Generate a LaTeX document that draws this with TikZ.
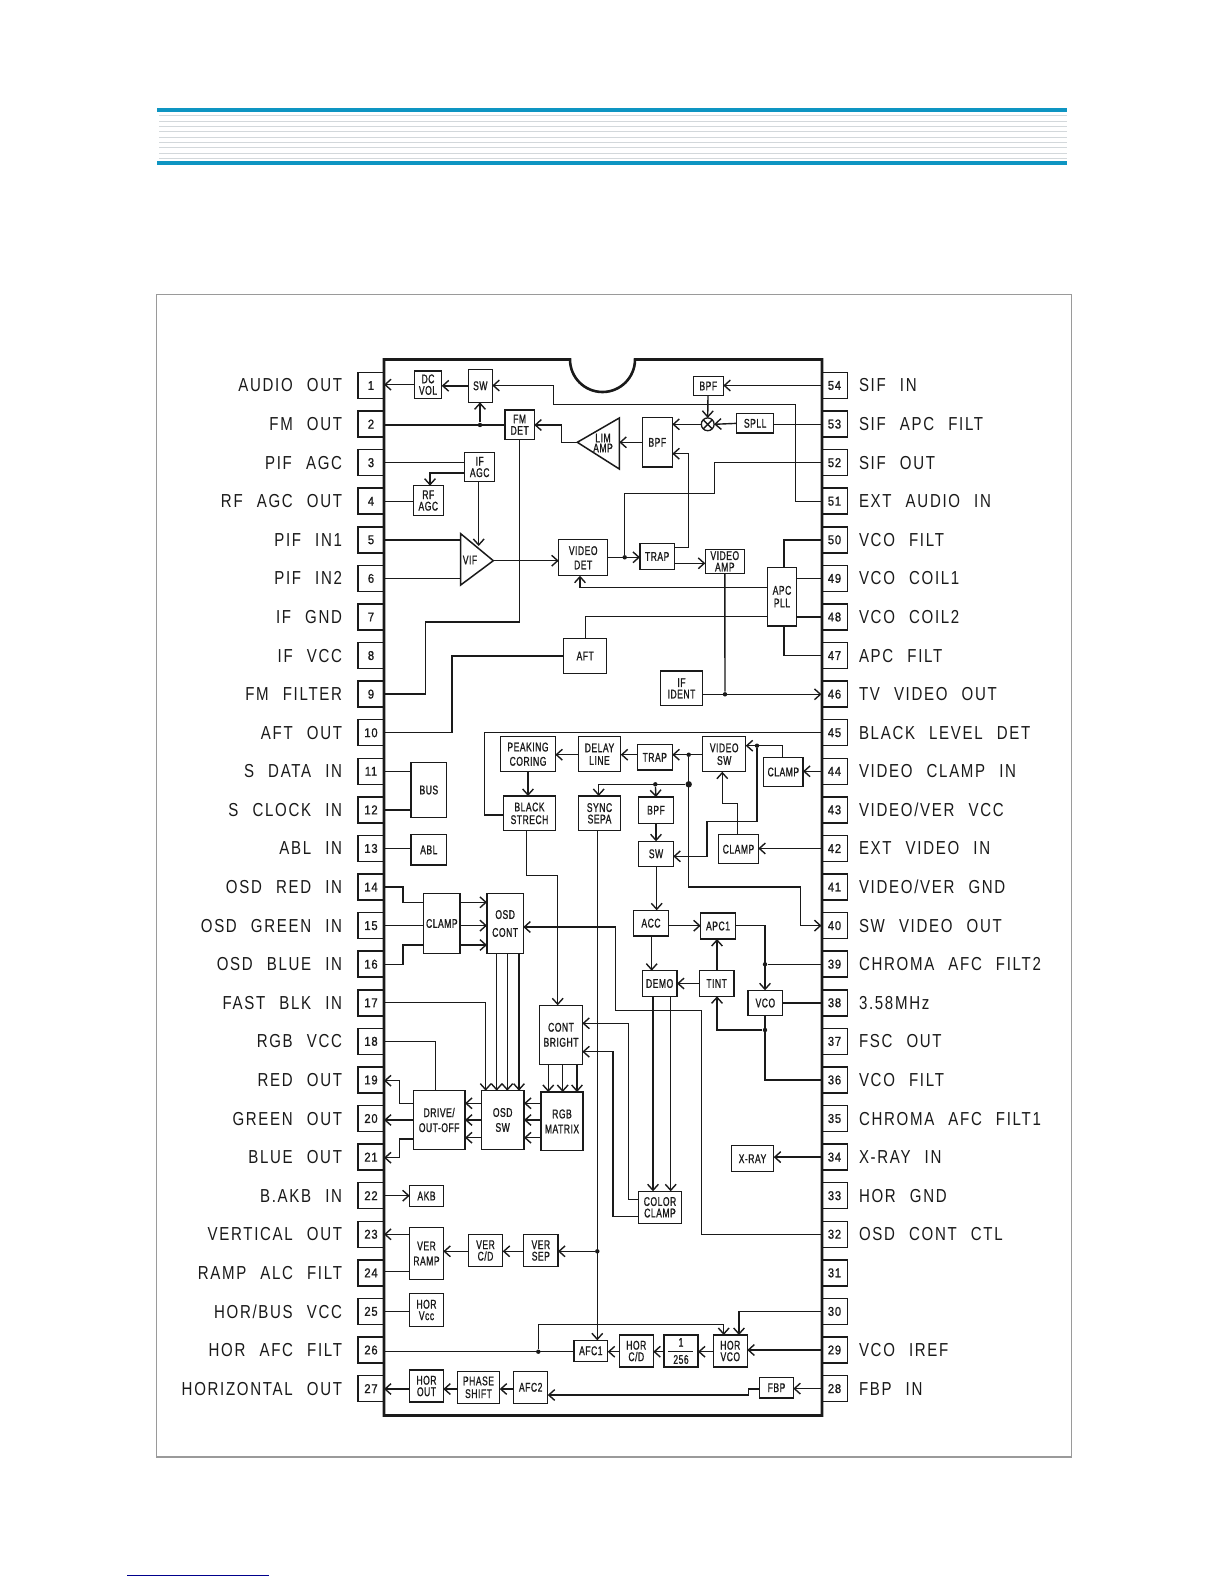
\documentclass[tikz,border=0pt]{standalone}
\usepackage{fontspec}
\usetikzlibrary{arrows.meta}
\setmainfont{Liberation Sans}
\newfontfamily\lblfont[FakeStretch=0.80,LetterSpace=9,WordSpace=2.4]{Liberation Sans}
\newfontfamily\bxfont[FakeStretch=0.68,LetterSpace=4,FakeBold=1]{Liberation Sans}
\newfontfamily\pnfont[FakeStretch=0.88,LetterSpace=6,FakeBold=1]{Liberation Sans}
\definecolor{hdr}{HTML}{0E95C2}
\definecolor{strp}{HTML}{D3D8DB}
\definecolor{frm}{HTML}{9A9A9A}
\definecolor{ink}{HTML}{1A1A1A}
\lineskiplimit=-100pt
\lineskip=0pt
\tikzset{
  bxs/.style={draw=ink,line width=0.75pt,fill=white,inner sep=0pt,outer sep=0pt,align=center,text=ink,font=\bxfont\fontsize{6.3}{5.75}\selectfont},
  pinbox/.style={bxs,minimum width=13pt,minimum height=13pt,font=\pnfont\fontsize{6.4}{7}\selectfont},
  lbl/.style={inner sep=0pt,outer sep=0pt,text=ink,font=\lblfont\fontsize{9.4}{10}\selectfont},
  wire/.style={draw=ink,line width=0.7pt},
  arr/.style={wire,-{Straight Barb[length=3pt,width=5.4pt,line width=0.7pt]}},
  dotn/.style={circle,fill=ink,inner sep=0pt,minimum size=2.2pt},
  bigdot/.style={circle,fill=ink,inner sep=0pt,minimum size=3.2pt},
  txt/.style={inner sep=0pt,align=center,text=ink,font=\bxfont\fontsize{6.3}{5}\selectfont}
}
\newcommand{\bx}[6]{\node[bxs,minimum width={(#4-#2)*0.5pt},minimum height={(#5-#3)*0.5pt}] (#1) at ({(#2+#4)/2},{(#3+#5)/2}) {#6};}
\newcommand{\lpin}[2]{\node[pinbox] (p#1) at (371,{385.5+38.58*(#1-1)}) {#1};
  \node[lbl,anchor=east] (l#1) at (342,{385.5+38.58*(#1-1)}) {#2};}
\newcommand{\rpin}[2]{\node[pinbox] (p#1) at (834.5,{385.5+38.58*(54-#1)}) {#1};
  \node[lbl,anchor=west] (l#1) at (859,{385.5+38.58*(54-#1)}) {#2};}
\newcommand{\rpinx}[1]{\node[pinbox] (p#1) at (834.5,{385.5+38.58*(54-#1)}) {#1};}
\begin{document}
\begin{tikzpicture}[x=0.5pt,y=-0.5pt]
\useasboundingbox (0,0) rectangle (1224,1584);
\fill[white] (0,0) rectangle (1224,1584);
% header band
\fill[hdr] (157,108) rectangle (1067,112);
\fill[hdr] (157,161) rectangle (1067,165);
\foreach \yy in {115.3,121.3,126.3,131.3,137.3,142.3,147.3,153.3,158.3}
  \draw[strp,line width=0.6pt] (159,\yy) -- (1067,\yy);
% frame
\draw[frm,line width=0.6pt] (156.5,294.5) rectangle (1071.7,1457);
% foot rule
\draw[blue!55!black,line width=0.7pt] (127,1575.3) -- (269,1575.3);
% pins
\lpin{1}{AUDIO OUT}\lpin{2}{FM OUT}\lpin{3}{PIF AGC}\lpin{4}{RF AGC OUT}\lpin{5}{PIF IN1}
\lpin{6}{PIF IN2}\lpin{7}{IF GND}\lpin{8}{IF VCC}\lpin{9}{FM FILTER}\lpin{10}{AFT OUT}
\lpin{11}{S DATA IN}\lpin{12}{S CLOCK IN}\lpin{13}{ABL IN}\lpin{14}{OSD RED IN}
\lpin{15}{OSD GREEN IN}\lpin{16}{OSD BLUE IN}\lpin{17}{FAST BLK IN}\lpin{18}{RGB VCC}
\lpin{19}{RED OUT}\lpin{20}{GREEN OUT}\lpin{21}{BLUE OUT}\lpin{22}{B.AKB IN}
\lpin{23}{VERTICAL OUT}\lpin{24}{RAMP ALC FILT}\lpin{25}{HOR/BUS VCC}\lpin{26}{HOR AFC FILT}
\lpin{27}{HORIZONTAL OUT}
\rpin{54}{SIF IN}\rpin{53}{SIF APC FILT}\rpin{52}{SIF OUT}\rpin{51}{EXT AUDIO IN}
\rpin{50}{VCO FILT}\rpin{49}{VCO COIL1}\rpin{48}{VCO COIL2}\rpin{47}{APC FILT}
\rpin{46}{TV VIDEO OUT}\rpin{45}{BLACK LEVEL DET}\rpin{44}{VIDEO CLAMP IN}
\rpin{43}{VIDEO/VER VCC}\rpin{42}{EXT VIDEO IN}\rpin{41}{VIDEO/VER GND}
\rpin{40}{SW VIDEO OUT}\rpin{39}{CHROMA AFC FILT2}\rpin{38}{3.58MHz}\rpin{37}{FSC OUT}
\rpin{36}{VCO FILT}\rpin{35}{CHROMA AFC FILT1}\rpin{34}{X-RAY IN}\rpin{33}{HOR GND}
\rpin{32}{OSD CONT CTL}\rpinx{31}\rpinx{30}\rpin{29}{VCO IREF}\rpin{28}{FBP IN}
% chip
\draw[ink,line width=1.3pt,fill=white] (384,359.5) -- (570,359.5) arc[start angle=180,end angle=0,radius=32.5] -- (822,359.5) -- (822,1415.5) -- (384,1415.5) -- cycle;
% upper blocks
\bx{dc}{414.3}{371}{441.7}{398.3}{DC\\VOL}
\bx{sw}{468.3}{369.3}{492.3}{402.3}{SW}
\bx{fm}{505}{410}{534.3}{439.3}{FM\\DET}
\bx{ifagc}{464.7}{452.3}{494.7}{481.7}{IF\\AGC}
\bx{rfagc}{413.3}{485.7}{443.3}{515.3}{RF\\AGC}
\bx{vdet}{558.7}{539.7}{607.7}{575.7}{VIDEO\\[1.4pt]DET}
\bx{trapa}{640}{543.7}{674.3}{569.3}{TRAP}
\bx{vamp}{705.3}{549.3}{744.3}{573.3}{VIDEO\\AMP}
\bx{bpfb}{642.3}{417.7}{672.3}{467}{BPF}
\bx{bpfa}{693.3}{376.3}{723.3}{395.7}{BPF}
\bx{spll}{736.7}{413.7}{773.7}{433}{SPLL}
\bx{apc}{767.3}{567.3}{796.7}{626}{APC\\[0.6pt]PLL}
\bx{aft}{563.7}{638.7}{606.7}{673.3}{AFT}
\bx{ident}{660.3}{671}{702.7}{705.7}{IF\\IDENT}
% triangles
\coordinate (vifa) at (460.7,533.7); \coordinate (vifb) at (493.3,560.7); \coordinate (vifc) at (460.7,585);
\draw[ink,line width=0.75pt,fill=white] (vifa) -- (vifb) -- (vifc) -- cycle;
\node[txt] (viftxt) at (470,560) {VIF};
\coordinate (lima) at (577.3,442.3); \coordinate (limb) at (619.3,418); \coordinate (limc) at (619.3,469);
\draw[ink,line width=0.75pt,fill=white] (lima) -- (limb) -- (limc) -- cycle;
\node[txt] (limtxt) at (603,443) {LIM\\AMP};
% mixer
\node[circle,draw=ink,line width=0.65pt,fill=white,inner sep=0pt,minimum size=6.4pt,outer sep=0pt] (mix) at (707.7,424.3) {};
\draw[wire] (mix.45) -- (mix.225) (mix.135) -- (mix.315);
% middle blocks
\bx{bus}{411}{762.3}{446.7}{817.7}{BUS}
\bx{abl}{411}{834.7}{446.7}{865}{ABL}
\bx{peak}{500.7}{736.7}{555.3}{771.7}{PEAKING\\[1.4pt]CORING}
\bx{delay}{578.3}{736.7}{620.7}{771.7}{DELAY\\[0.6pt]LINE}
\bx{trapb}{637.3}{744.7}{672.3}{770}{TRAP}
\bx{vsw}{702.7}{736.7}{745.7}{771.7}{VIDEO\\[0.6pt]SW}
\bx{clampa}{763.7}{757.3}{803}{786.7}{CLAMP}
\bx{black}{503.7}{796}{555.3}{830.7}{BLACK\\[0.6pt]STRECH}
\bx{sync}{578.3}{796}{620.7}{830.7}{SYNC\\SEPA}
\bx{bpfc}{638.7}{797}{673.3}{823.3}{BPF}
\bx{swb}{638.7}{841.3}{673.3}{866.3}{SW}
\bx{clampb}{718.7}{834.7}{758.3}{863.7}{CLAMP}
\bx{clampc}{423.7}{893.7}{460}{953.3}{CLAMP}
\bx{osdc}{487}{893.7}{523.3}{953.3}{OSD\\[3.2pt]CONT}
\bx{acc}{633.7}{910.3}{668.3}{936}{ACC}
\bx{apca}{700.7}{913}{735.3}{939}{APC1}
\bx{demo}{642.3}{970.7}{677}{996.3}{DEMO}
\bx{tint}{699.3}{970.7}{734}{996.3}{TINT}
\bx{vco}{748}{990.3}{782.7}{1015.7}{VCO}
\bx{cont}{539.7}{1005.3}{582.3}{1064.3}{CONT\\[1.75pt]BRIGHT}
% lower blocks
\bx{drive}{413.3}{1090.7}{465}{1149.3}{DRIVE/\\[1.75pt]OUT-OFF}
\bx{osds}{481.3}{1090.7}{524}{1149.3}{OSD\\[1.75pt]SW}
\bx{rgb}{541}{1092}{583}{1150.7}{RGB\\[1.75pt]MATRIX}
\bx{akb}{409.7}{1185.7}{443.3}{1206.3}{AKB}
\bx{xray}{731.3}{1145.7}{773.7}{1171.7}{X-RAY}
\bx{color}{638.7}{1191.3}{681.3}{1223.3}{COLOR\\CLAMP}
\bx{vramp}{409.7}{1227.3}{443.3}{1279.7}{VER\\[1.75pt]RAMP}
\bx{vcd}{468.3}{1234.3}{502.7}{1266.7}{VER\\C/D}
\bx{vsep}{523.7}{1234.3}{558}{1266.7}{VER\\SEP}
\bx{hvcc}{409.7}{1293.7}{443.3}{1326.3}{HOR\\Vcc}
\bx{afca}{574}{1340.3}{607.7}{1361.3}{AFC1}
\bx{hcd}{619.3}{1335}{653.3}{1367}{HOR\\C/D}
\bx{div}{664}{1335}{698}{1367}{1\\[2.8pt]256}
\bx{hvco}{713.3}{1335}{747.3}{1367}{HOR\\VCO}
\bx{hout}{409.7}{1370}{443.3}{1402}{HOR\\OUT}
\bx{phase}{457.3}{1371.3}{499.7}{1403.3}{PHASE\\[0.6pt]SHIFT}
\bx{afcb}{513.7}{1371.3}{547.7}{1403.3}{AFC2}
\bx{fbp}{759.7}{1377.3}{793.3}{1398}{FBP}
\draw[wire] (668,1351.7) -- (693,1351.7);
% dots
\node[dotn] (d2) at (480,425) {};
\node[dotn] (d52) at (624.7,557.3) {};
\node[dotn] (d46) at (725,694.3) {};
\node[dotn] (dtr) at (688.7,754.7) {};
\node[bigdot] (dbig) at (688.7,784.3) {};
\node[dotn] (dbpf) at (655.3,784.3) {};
\node[dotn] (dsw) at (757,745.7) {};
\node[dotn] (d39) at (765,964.3) {};
\node[dotn] (dvco) at (765,1030) {};
\node[dotn] (dsync) at (597.3,1251.3) {};
\node[dotn] (d26) at (538.3,1351.7) {};
% wires: upper part
\draw[arr] (dc.west) -- (p1.east |- dc.west);
\draw[arr] (sw.west) -- (dc.east |- sw.west);
\draw[arr] (p51.west) -| (795.7,404.7) -| (553.7,385.5) -- (sw.east |- 0,385.5);
\draw[wire] (p2.east |- d2) -- (fm.west |- d2);
\draw[arr] (d2) -- (sw.south -| d2);
\draw[arr] (lima) -| (561.3,425) -- (fm.east |- 0,425);
\draw[arr] (bpfb.west |- lima) -- (limb |- lima);
\draw[arr] (mix.west) -- (bpfb.east |- mix.west);
\draw[arr] (spll.west) -- (mix.east);
\draw[wire] (spll.east |- mix) -- (p53.west |- mix);
\draw[arr] (bpfa.south -| 708,0) -- (mix.north);
\draw[arr] (p54.west) -- (bpfa.east |- p54.west);
\draw[arr] (trapa.east |- 0,547.3) -| (688.7,453.7) -- (bpfb.east |- 0,453.7);
\draw[wire] (p52.west) -| (714.7,493.7) -| (d52);
\draw[arr] (vdet.east |- d52) -- (trapa.west |- d52);
\draw[arr] (trapa.east |- 0,563.3) -- (vamp.west |- 0,563.3);
\draw[arr] (vifb) -- (vdet.west |- vifb);
\draw[wire] (p5.east) -- (vifa |- p5.east);
\draw[wire] (p6.east) -- (vifa |- p6.east);
\draw[wire] (p3.east) -- (ifagc.west |- p3.east);
\draw[arr] (ifagc.west |- 0,473) -| (430,0 |- rfagc.north);
\draw[wire] (p4.east) -- (rfagc.west |- p4.east);
\draw[arr] (ifagc.south -| 478.7,0) -- (478.7,546);
\draw[wire] (fm.south -| 519.3,0) |- (425.3,622) |- (p9.east);
\draw[wire] (aft.west) -| (452,732.7) -- (p10.east |- 0,732.7);
\draw[wire] (aft.north) |- (apc.west |- 0,616.7);
\draw[arr] (apc.west |- 0,587.3) -| (580,0 |- vdet.south);
\draw[wire] (vamp.south) -- (d46);
\draw[arr] (ident.east |- d46) -- (p46.west |- d46);
\draw[wire] (apc.north -| 784,0) |- (p50.west);
\draw[wire] (apc.east |- p49.west) -- (p49.west);
\draw[wire] (apc.east |- p48.west) -- (p48.west);
\draw[wire] (apc.south -| 784,0) |- (p47.west);
% wires: middle part
\draw[wire] (p11.east) -- (bus.west |- p11.east);
\draw[wire] (p12.east) -- (bus.west |- p12.east);
\draw[wire] (p13.east) -- (abl.west |- p13.east);
\draw[wire] (p45.west) -| (484.3,815) -- (black.west |- 0,815);
\draw[arr] (vsw.west |- dtr) -- (trapb.east |- dtr);
\draw[arr] (trapb.west |- dtr) -- (delay.east |- dtr);
\draw[arr] (delay.west |- dtr) -- (peak.east |- dtr);
\draw[arr] (dtr) |- (800.7,887) |- (p40.west);
\draw[arr] (dbig) -| (598.7,0 |- sync.north);
\draw[arr] (dbpf) -- (bpfc.north);
\draw[arr] (peak.south -| 528,0) -- (black.north -| 528,0);
\draw[arr] (bpfc.south) -- (swb.north);
\draw[arr] (dsw) |- (707,821.7) |- (swb.east |- 0,856.3);
\draw[arr] (clampa.north -| 782.7,0) |- (vsw.east |- dsw);
\draw[arr] (clampb.north -| 737.7,0) |- (722.3,803.7) -- (722.3,0 |- vsw.south);
\draw[arr] (p44.west) -- (clampa.east |- p44.west);
\draw[arr] (p42.west) -- (clampb.east |- p42.west);
\draw[arr] (black.south -| 526.7,0) |- (557.7,875.3) -- (557.7,0 |- cont.north);
\draw[arr] (sync.south -| 597.3,0) -- (597.3,0 |- afca.north);
\draw[arr] (swb.south -| 656.7,0) -- (acc.north -| 656.7,0);
\draw[arr] (acc.east |- 0,925.7) -- (apca.west |- 0,925.7);
\draw[arr] (acc.south -| 651.7,0) -- (demo.north -| 651.7,0);
\draw[arr] (tint.west) -- (demo.east);
\draw[arr] (tint.north -| 717,0) -- (apca.south -| 717,0);
\draw[arr] (apca.east |- 0,925.7) -| (vco.north -| 765,0);
\draw[wire] (d39) -- (p39.west |- d39);
\draw[wire] (vco.east) -- (p38.west |- vco.east);
\draw[wire] (vco.south -| 765,0) |- (p36.west);
\draw[arr] (dvco) -| (717,0 |- tint.south);
\draw[arr] (p32.west) -| (701.7,1010.7) -| (615.7,927) -- (osdc.east |- 0,927);
\draw[wire] (p14.east) -| (403,902.3) -- (clampc.west |- 0,902.3);
\draw[wire] (p15.east) -- (clampc.west |- p15.east);
\draw[wire] (p16.east) -| (403,945) -- (clampc.west |- 0,945);
\draw[arr] (clampc.east |- 0,902.3) -- (osdc.west |- 0,902.3);
\draw[arr] (clampc.east |- p15.east) -- (osdc.west |- p15.east);
\draw[arr] (clampc.east |- 0,945) -- (osdc.west |- 0,945);
\draw[arr] (osdc.south -| 496.7,0) -- (osds.north -| 496.7,0);
\draw[arr] (osdc.south -| 507.3,0) -- (osds.north -| 507.3,0);
\draw[arr] (osdc.south -| 519,0) -- (osds.north -| 519,0);
\draw[arr] (p17.east) -| (485.7,0 |- osds.north);
\draw[wire] (p18.east) -| (drive.north -| 435.7,0);
\draw[arr] (demo.south -| 653,0) -- (color.north -| 653,0);
\draw[arr] (demo.south -| 670.7,0) -- (color.north -| 670.7,0);
\draw[arr] (color.west |- 0,1199.7) -| (628.3,1023.3) -- (cont.east |- 0,1023.3);
\draw[arr] (color.west |- 0,1216.7) -| (613,1051.7) -- (cont.east |- 0,1051.7);
% wires: lower part
\foreach \yy in {1103.3,1120,1137.7} {
  \draw[arr] (osds.west |- 0,\yy) -- (drive.east |- 0,\yy);
  \draw[arr] (rgb.west |- 0,\yy) -- (osds.east |- 0,\yy);
}
\draw[arr] (cont.south -| 548.3,0) -- (rgb.north -| 548.3,0);
\draw[arr] (cont.south -| 562.7,0) -- (rgb.north -| 562.7,0);
\draw[arr] (cont.south -| 577,0) -- (rgb.north -| 577,0);
\draw[arr] (drive.west |- 0,1103.3) -| (399.3,1080.7) -- (p19.east |- 0,1080.7);
\draw[arr] (drive.west) -- (p20.east |- drive.west);
\draw[arr] (drive.west |- 0,1139) -| (399.3,1157.7) -- (p21.east |- 0,1157.7);
\draw[arr] (p22.east) -- (akb.west |- p22.east);
\draw[arr] (p34.west) -- (xray.east |- p34.west);
\draw[arr] (vramp.west |- 0,1234.3) -- (p23.east |- 0,1234.3);
\draw[wire] (p24.east |- 0,1271.7) -- (vramp.west |- 0,1271.7);
\draw[wire] (p25.east) -- (hvcc.west |- p25.east);
\draw[arr] (vcd.west |- dsync) -- (vramp.east |- dsync);
\draw[arr] (vsep.west |- dsync) -- (vcd.east |- dsync);
\draw[arr] (dsync) -- (vsep.east |- dsync);
\draw[wire] (p26.east |- d26) -- (afca.west |- d26);
\draw[arr] (d26) |- (723.7,1324.7) -- (723.7,0 |- hvco.north);
\draw[arr] (hcd.west |- d26) -- (afca.east |- d26);
\draw[arr] (div.west |- d26) -- (hcd.east |- d26);
\draw[arr] (hvco.west |- d26) -- (div.east |- d26);
\draw[arr] (p29.west) -- (hvco.east |- p29.west);
\draw[arr] (p30.west) -| (739,0 |- hvco.north);
\draw[arr] (hout.west |- 0,1389) -- (p27.east |- 0,1389);
\draw[arr] (phase.west |- 0,1389) -- (hout.east |- 0,1389);
\draw[arr] (afcb.west |- 0,1389) -- (phase.east |- 0,1389);
\draw[arr] (p28.west) -- (fbp.east |- p28.west);
\draw[arr] (fbp.west |- 0,1389) -| (748.3,1395) -- (afcb.east |- 0,1395);
\end{tikzpicture}
\end{document}
